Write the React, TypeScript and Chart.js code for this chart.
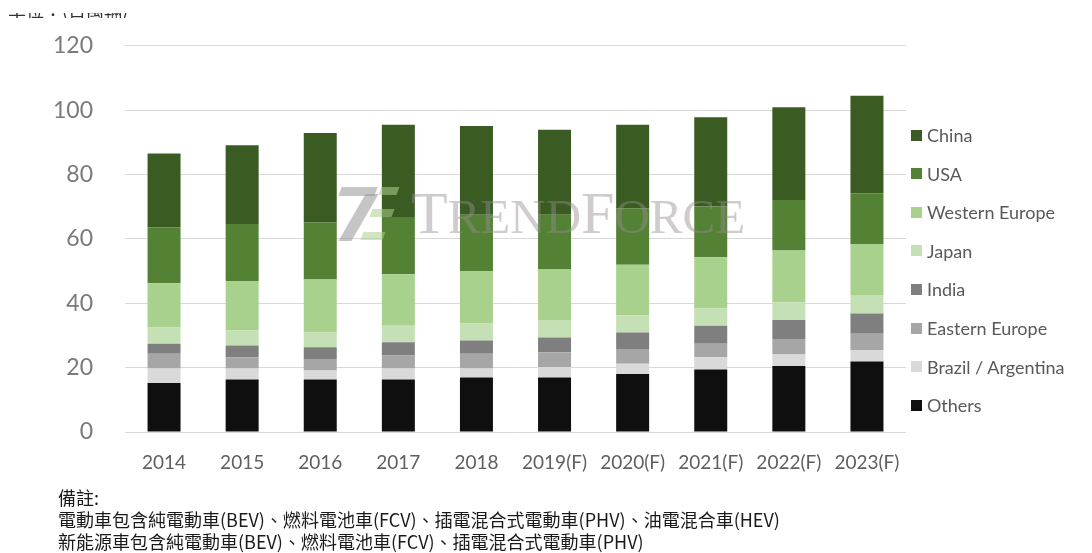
import React, { useEffect, useRef } from "react";
import { Chart, registerables } from "chart.js";

Chart.register(...registerables);

const years = ["2014", "2015", "2016", "2017", "2018", "2019(F)", "2020(F)", "2021(F)", "2022(F)", "2023(F)"];
const others = [15.2, 16.3, 16.3, 16.3, 16.9, 16.9, 18.0, 19.4, 20.5, 21.9];
const brazilArgentina = [4.5, 3.4, 2.8, 3.4, 2.8, 3.3, 3.2, 3.8, 3.6, 3.6];
const easternEurope = [4.6, 3.5, 3.6, 4.1, 4.6, 4.6, 4.6, 4.2, 4.8, 5.0];
const india = [3.1, 3.7, 3.6, 4.1, 4.1, 4.6, 5.1, 5.6, 5.9, 6.3];
const japan = [5.1, 4.6, 4.6, 5.1, 5.3, 5.4, 5.4, 5.4, 5.4, 5.8];
const westernEurope = [13.7, 15.4, 16.5, 16.0, 16.3, 15.7, 15.7, 15.9, 16.2, 15.8];
const usa = [17.4, 17.7, 17.8, 17.8, 17.5, 17.0, 17.5, 15.8, 15.7, 15.8];
const china = [22.9, 24.5, 27.7, 28.7, 27.6, 26.4, 26.0, 27.7, 28.8, 30.3];

const seriesNames = ["Others", "Brazil / Argentina", "Eastern Europe", "India", "Japan", "Western Europe", "USA", "China"];
const seriesValues = [others, brazilArgentina, easternEurope, india, japan, westernEurope, usa, china];
const seriesColors = ["#0f0f0f", "#d9d9d9", "#a6a6a6", "#7f7f7f", "#c5e0b4", "#a9d18e", "#548235", "#3a5c22"];

const yTicks = [0, 20, 40, 60, 80, 100, 120];

const footnoteLines = [
  "備註:",
  "電動車包含純電動車(BEV)、燃料電池車(FCV)、插電混合式電動車(PHV)、油電混合車(HEV)",
  "新能源車包含純電動車(BEV)、燃料電池車(FCV)、插電混合式電動車(PHV)",
];

export default function App() {
  const canvasRef = useRef<HTMLCanvasElement | null>(null);

  useEffect(() => {
    const canvas = canvasRef.current;
    if (!canvas) return;
    const chart = new Chart(canvas, {
      type: "bar",
      data: {
        labels: years,
        datasets: seriesNames.map((name, i) => ({
          label: name,
          data: seriesValues[i],
          backgroundColor: seriesColors[i],
          borderWidth: 0,
          categoryPercentage: 1,
          barPercentage: 0.4225,
        })),
      },
      options: {
        responsive: false,
        animation: false,
        devicePixelRatio: 1,
        layout: { padding: { top: 43, right: 186, bottom: 0, left: 0 } },
        plugins: {
          legend: { display: false },
          tooltip: { enabled: false },
          title: { display: false },
        },
        scales: {
          x: {
            stacked: true,
            grid: { display: false },
            border: { display: false },
            ticks: {
              padding: 11,
              color: "#5f5f5f",
              font: { family: "Lato", size: 19 },
              maxRotation: 0,
              autoSkip: false,
            },
            afterFit: (scale: any) => {
              scale.height = 48;
            },
          },
          y: {
            stacked: true,
            min: 0,
            max: 120,
            afterBuildTicks: (scale: any) => {
              scale.ticks = yTicks.map((v) => ({ value: v }));
            },
            grid: { color: "#d9d9d9", lineWidth: 1, drawTicks: false },
            border: { display: false },
            ticks: {
              padding: 32,
              color: "#7a7a7a",
              font: { family: "Lato", size: 23 },
            },
            afterFit: (scale: any) => {
              scale.width = 125;
            },
          },
        },
      },
    });
    return () => chart.destroy();
  }, []);

  const legendItems = seriesNames.map((n, i) => ({ name: n, color: seriesColors[i] })).reverse();

  return (
    <div style={{ position: "absolute", left: 0, top: 0, width: 1092, height: 553, background: "#fff", overflow: "hidden" }}>
      <canvas ref={canvasRef} width={1092} height={480} style={{ position: "absolute", left: 0, top: 0, width: 1092, height: 480 }} />

      {/* clipped unit label at very top */}
      <div style={{ position: "absolute", left: 8, top: 13, height: 5, width: 160, overflow: "hidden" }}>
        <div style={{ position: "absolute", left: 0, top: -14, whiteSpace: "nowrap", fontFamily: "'Noto Sans CJK TC'", fontSize: 18, lineHeight: "20px", color: "#333" }}>
          單位：(百萬輛)
        </div>
      </div>

      {/* watermark */}
      <div style={{ position: "absolute", left: 0, top: 0, width: 1092, height: 553, pointerEvents: "none" }}>
        <div style={{ position: "absolute", left: 340, top: 187, width: 36, height: 9, background: "rgba(150,150,150,0.55)", transform: "skewX(-20deg)" }} />
        <div style={{ position: "absolute", left: 352, top: 194, width: 13, height: 47, background: "rgba(150,150,150,0.55)", transform: "skewX(-30deg)" }} />
        <div style={{ position: "absolute", left: 380, top: 187, width: 18, height: 8, background: "rgba(170,210,140,0.55)", transform: "skewX(-20deg)" }} />
        <div style={{ position: "absolute", left: 371, top: 209, width: 22, height: 8, background: "rgba(170,210,140,0.55)", transform: "skewX(-20deg)" }} />
        <div style={{ position: "absolute", left: 362, top: 232, width: 22, height: 8, background: "rgba(170,210,140,0.55)", transform: "skewX(-20deg)" }} />
        <div style={{ position: "absolute", left: 411, top: 178, whiteSpace: "nowrap", fontFamily: "'Liberation Serif'", color: "rgba(150,140,145,0.45)", lineHeight: "70px" }}>
          <span style={{ fontSize: 60 }}>T</span>
          <span style={{ fontSize: 49 }}>REND</span>
          <span style={{ fontSize: 60 }}>F</span>
          <span style={{ fontSize: 49 }}>ORCE</span>
        </div>
      </div>

      {/* legend */}
      {legendItems.map((it, i) => (
        <div key={it.name} style={{ position: "absolute", left: 911, top: 135 + i * 38.6 - 12, height: 24, display: "flex", alignItems: "center", whiteSpace: "nowrap" }}>
          <div style={{ width: 11, height: 11, background: it.color, marginRight: 5 }} />
          <span style={{ fontFamily: "Lato", fontSize: 18, color: "#595959" }}>{it.name}</span>
        </div>
      ))}

      {/* footnote */}
      <div style={{ position: "absolute", left: 58, top: 486, fontFamily: "'Noto Sans CJK TC'", fontSize: 18, lineHeight: "22px", color: "#1a1a1a", whiteSpace: "nowrap" }}>
        {footnoteLines.map((l) => (
          <div key={l}>{l}</div>
        ))}
      </div>
    </div>
  );
}
